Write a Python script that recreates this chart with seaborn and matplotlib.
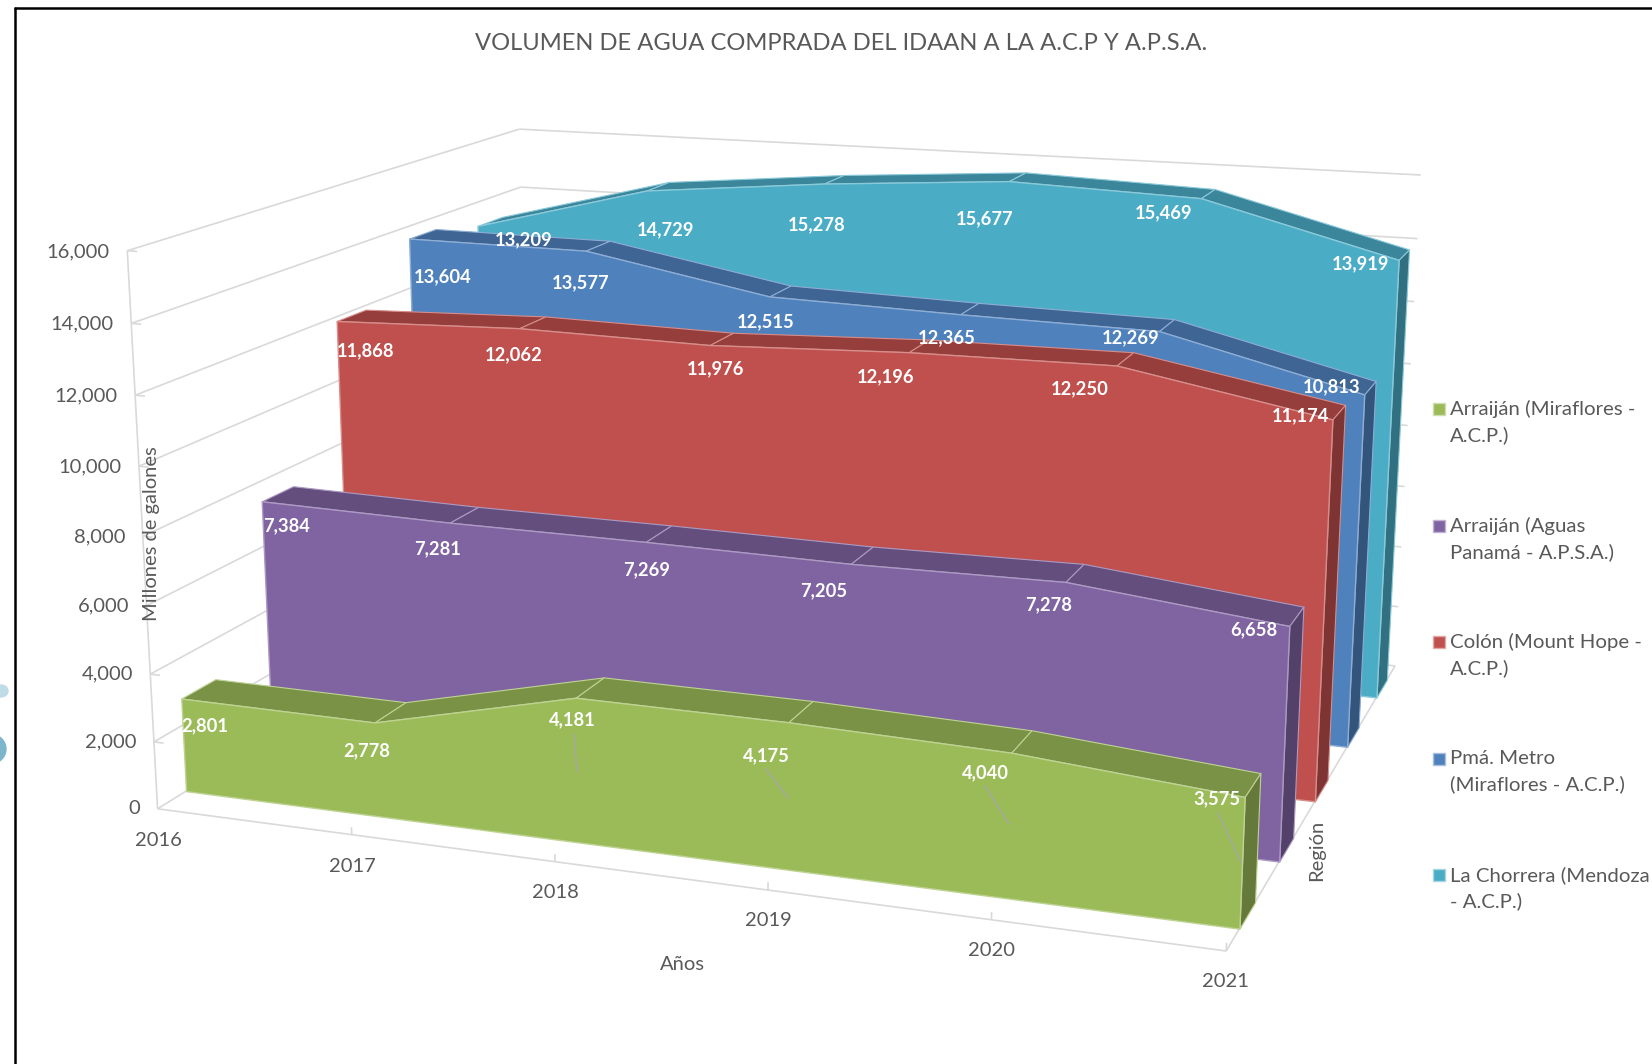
import numpy as np
import matplotlib
matplotlib.use('Agg')
import matplotlib.pyplot as plt
import seaborn as sns
from matplotlib.lines import Line2D
from matplotlib.patches import Rectangle, Ellipse
from mpl_toolkits.mplot3d.art3d import Line3DCollection, Poly3DCollection

sns.set_theme(style='white')
plt.rcParams['font.family'] = ['Lato', 'DejaVu Sans']

W, H = 1652, 1064

years = ['2016', '2017', '2018', '2019', '2020', '2021']
arraijan_acp = [2801, 2778, 4181, 4175, 4040, 3575]
arraijan_apsa = [7384, 7281, 7269, 7205, 7278, 6658]
colon_acp = [11868, 12062, 11976, 12196, 12250, 11174]
metro_acp = [13604, 13577, 12515, 12365, 12269, 10813]
chorrera_acp = [13209, 14729, 15278, 15677, 15469, 13919]
series = [arraijan_acp, arraijan_apsa, colon_acp, metro_acp, chorrera_acp]
series_names = ['Arraiján (Miraflores -\nA.C.P.)', 'Arraiján (Aguas\nPanamá - A.P.S.A.)',
                'Colón (Mount Hope -\nA.C.P.)', 'Pmá. Metro\n(Miraflores - A.C.P.)',
                'La Chorrera (Mendoza\n- A.C.P.)']
value_ticks = [0, 2000, 4000, 6000, 8000, 10000, 12000, 14000, 16000]

palette = sns.color_palette(['#9BBB59', '#8064A2', '#C0504D', '#4F81BD', '#4BACC6'])
TEXT = '#595959'
GRID = '#D9D9D9'
GAP = 0.31  # empty depth on each side of a ribbon

# where the labels sit on the page, pixels from the top left
label_pos = [
    [(205, 726), (367, 751), (572, 720), (766, 756), (985, 773), (1217, 799)],
    [(287, 526), (438, 549), (647, 570), (824, 591), (1049, 605), (1254, 630)],
    [(366, 351), (514, 355), (716, 369), (886, 377), (1080, 389), (1301, 416)],
    [(443, 277), (581, 283), (766, 322), (947, 338), (1131, 338), (1332, 387)],
    [(524, 240), (666, 230), (817, 225), (985, 219), (1164, 213), (1361, 264)],
]
leaders = [((574, 734), (577, 772)), ((766, 769), (788, 798)),
           ((985, 786), (1009, 824)), ((1218, 813), (1241, 862))]

# camera calibration: (x, depth, value in thousands) -> pixel in the reference
g = GAP
calib = [
    (0, 0, 0, 157, 809), (0, 0, 16, 128, 249), (0, 0, 14, 132, 322), (0, 0, 2, 156, 741),
    (0, 0, 4, 151, 673), (5, 0, 0, 1226, 950), (5, 5, 0, 1395, 666), (5, 5, 16, 1421, 174),
    (5, 5, 14, 1417, 239), (5, 5, 8, 1408, 426), (0, 5, 16, 520, 130), (0, 5, 14, 521, 188),
    (5, g, 0, 1239, 928), (5, 1 - g, 0, 1256, 902), (5, g, 3.575, 1244, 796), (5, 1 - g, 3.575, 1261, 772),
    (0, g, 0, 184, 792), (0, g, 2.801, 180, 699), (0, 1 - g, 2.801, 217, 679),
    (0, 1 + g, 7.384, 260, 504), (0, 2 - g, 7.384, 293, 486), (0, 2 + g, 11.868, 336, 321),
    (0, 3 - g, 11.868, 366, 309), (0, 3 + g, 13.604, 408, 238), (0, 4 - g, 13.604, 436, 229),
    (5, 1 + g, 0, 1279, 862), (5, 2 - g, 0, 1294, 837), (5, 2 + g, 0, 1315, 802), (5, 3 - g, 0, 1328, 778),
    (5, 3 + g, 0, 1347, 747), (5, 4 - g, 0, 1359, 727), (5, 4 + g, 0, 1376, 697), (5, 5 - g, 0, 1387, 679),
    (5, 4 + g, 13.919, 1398, 259), (5, 5 - g, 13.919, 1409, 249), (5, 3 + g, 10.813, 1364, 394),
    (5, 4 - g, 10.813, 1376, 381), (5, 2 + g, 11.174, 1332, 419), (5, 3 - g, 11.174, 1345, 404),
    (5, 1 + g, 6.658, 1288, 637), (5, 2 - g, 6.658, 1304, 606),
]


def fit_camera(points):
    rows = []
    for x, y, z, u, v in points:
        u, v = u / 1000, v / 1000
        rows.append([x, y, z, 1, 0, 0, 0, 0, -u * x, -u * y, -u * z, -u])
        rows.append([0, 0, 0, 0, x, y, z, 1, -v * x, -v * y, -v * z, -v])
    p = np.linalg.svd(np.array(rows))[2][-1].reshape(3, 4)
    p[:2] *= 1000
    p[:, 2] /= 1000  # values are given in plain units on the axes
    return np.array([p[0], H * p[2] - p[1], [0, 1, 0, 0], p[2]])


def shade(color, k):
    return tuple(c * k for c in color)


def tint(color, k):
    return tuple(c + (1 - c) * k for c in color)


def project(x, y, z):
    q = camera @ np.array([x, y, z, 1.0])
    return q[0] / q[3], H - q[1] / q[3]


def page_text(px, py, s, **kw):
    fig.text(px / W, 1 - py / H, s, **kw)


def page_line(p0, p1, **kw):
    fig.add_artist(Line2D([p0[0] / W, p1[0] / W], [1 - p0[1] / H, 1 - p1[1] / H],
                          transform=fig.transFigure, **kw))


fig = plt.figure(figsize=(W / 100, H / 100), dpi=100, facecolor='white')
ax = fig.add_axes([0, 0, 1, 1], projection='3d', computed_zorder=False)
camera = fit_camera(calib)
ax.get_proj = lambda: camera
ax.apply_aspect = lambda position=None: None
ax.set_autoscale_on(False)
ax.viewLim.intervalx = (0, W)
ax.viewLim.intervaly = (0, H)
ax.set_axis_off()

# walls and floor
grid = []
for v in value_ticks:
    grid.append([(0, 0, v), (0, 5, v)])
    grid.append([(0, 5, v), (5, 5, v)])
    if v:
        grid.append([(0, 0, v), (0.05, 0, v)])
grid.append([(0, 0, 0), (0, 0, 16000)])
grid.append([(0, 0, 0), (5, 0, 0)])
grid.append([(5, 0, 0), (5, 5, 0)])
for i in range(1, 6):
    grid.append([(i, 0, 0), (i, 0, 220)])
ax.add_collection3d(Line3DCollection(grid, colors=GRID, linewidths=1.2, zorder=1), autolim=False)

xs = np.arange(len(years))
for i, values in enumerate(series):
    y0, y1 = i + GAP, i + 1 - GAP
    base = (len(series) - i) * 10
    color = palette[i]
    line = tint(color, 0.35)
    for k in range(len(xs) - 1):
        top = [(xs[k], y0, values[k]), (xs[k + 1], y0, values[k + 1]),
               (xs[k + 1], y1, values[k + 1]), (xs[k], y1, values[k])]
        ax.add_collection3d(Poly3DCollection([top], facecolors=[shade(color, 0.78)], edgecolors=[line],
                                             linewidths=0.8, zorder=base), autolim=False)
    side = [(xs[-1], y0, 0), (xs[-1], y1, 0), (xs[-1], y1, values[-1]), (xs[-1], y0, values[-1])]
    ax.add_collection3d(Poly3DCollection([side], facecolors=[shade(color, 0.65)], edgecolors=[line],
                                         linewidths=0.8, zorder=base + 1), autolim=False)
    front = [(xs[0], y0, 0)] + [(x, y0, v) for x, v in zip(xs, values)] + [(xs[-1], y0, 0)]
    ax.add_collection3d(Poly3DCollection([front], facecolors=[color], edgecolors=[line],
                                         linewidths=1.0, zorder=base + 2), autolim=False)

for v in value_ticks:
    px, py = project(-0.09, 0, v)
    page_text(px, py + 2, f'{v:,}', ha='right', va='center', fontsize=14.5, color=TEXT)
for x, year in zip(xs, years):
    px, py = project(x, 0, -900)
    page_text(px + 0.4 * x - 1, py + 2 - x, year, ha='center', va='center', fontsize=14.5, color=TEXT)

for values, spots in zip(series, label_pos):
    for v, (px, py) in zip(values, spots):
        page_text(px, py, f'{v:,}', ha='center', va='center', fontsize=13.2, fontweight='bold',
                  color='white', zorder=5)
for p0, p1 in leaders:
    page_line(p0, p1, color='#A6A6A6', lw=1.0, zorder=4)

page_text(841, 43, 'VOLUMEN DE AGUA COMPRADA DEL IDAAN A LA A.C.P Y A.P.S.A.', ha='center', va='center',
          fontsize=17.1, color=TEXT)
page_text(151, 534, 'Millones de galones', ha='center', va='center', rotation=90, fontsize=14.5, color=TEXT)
page_text(682, 965, 'Años', ha='center', va='center', fontsize=14.5, color=TEXT)
page_text(1317, 850, 'Región', ha='center', va='center', rotation=90, fontsize=14.5, color=TEXT)

# legend
for i, name in enumerate(series_names):
    py = 409 + i * 116.6
    fig.add_artist(Rectangle((1433 / W, 1 - (py + 6) / H), 12 / W, 12 / H, transform=fig.transFigure,
                             facecolor=palette[i], edgecolor=tint(palette[i], 0.5), lw=1))
    page_text(1450, py - 9, name, ha='left', va='top', fontsize=14.65, color=TEXT, linespacing=1.55)

# frame and the bits of the page around it
page_line((15, 8), (W, 8), color='black', lw=1.8, zorder=6)
page_line((15, 8), (15, H), color='black', lw=1.8, zorder=6)
fig.add_artist(Ellipse((-10 / W, 1 - 749 / H), 32 / W, 30 / H, transform=fig.transFigure, color='#7DB6CC'))
fig.add_artist(Ellipse((1 / W, 1 - 691 / H), 14 / W, 12 / H, transform=fig.transFigure, color='#BFDCE6'))

fig.savefig('out.png', dpi=100)
